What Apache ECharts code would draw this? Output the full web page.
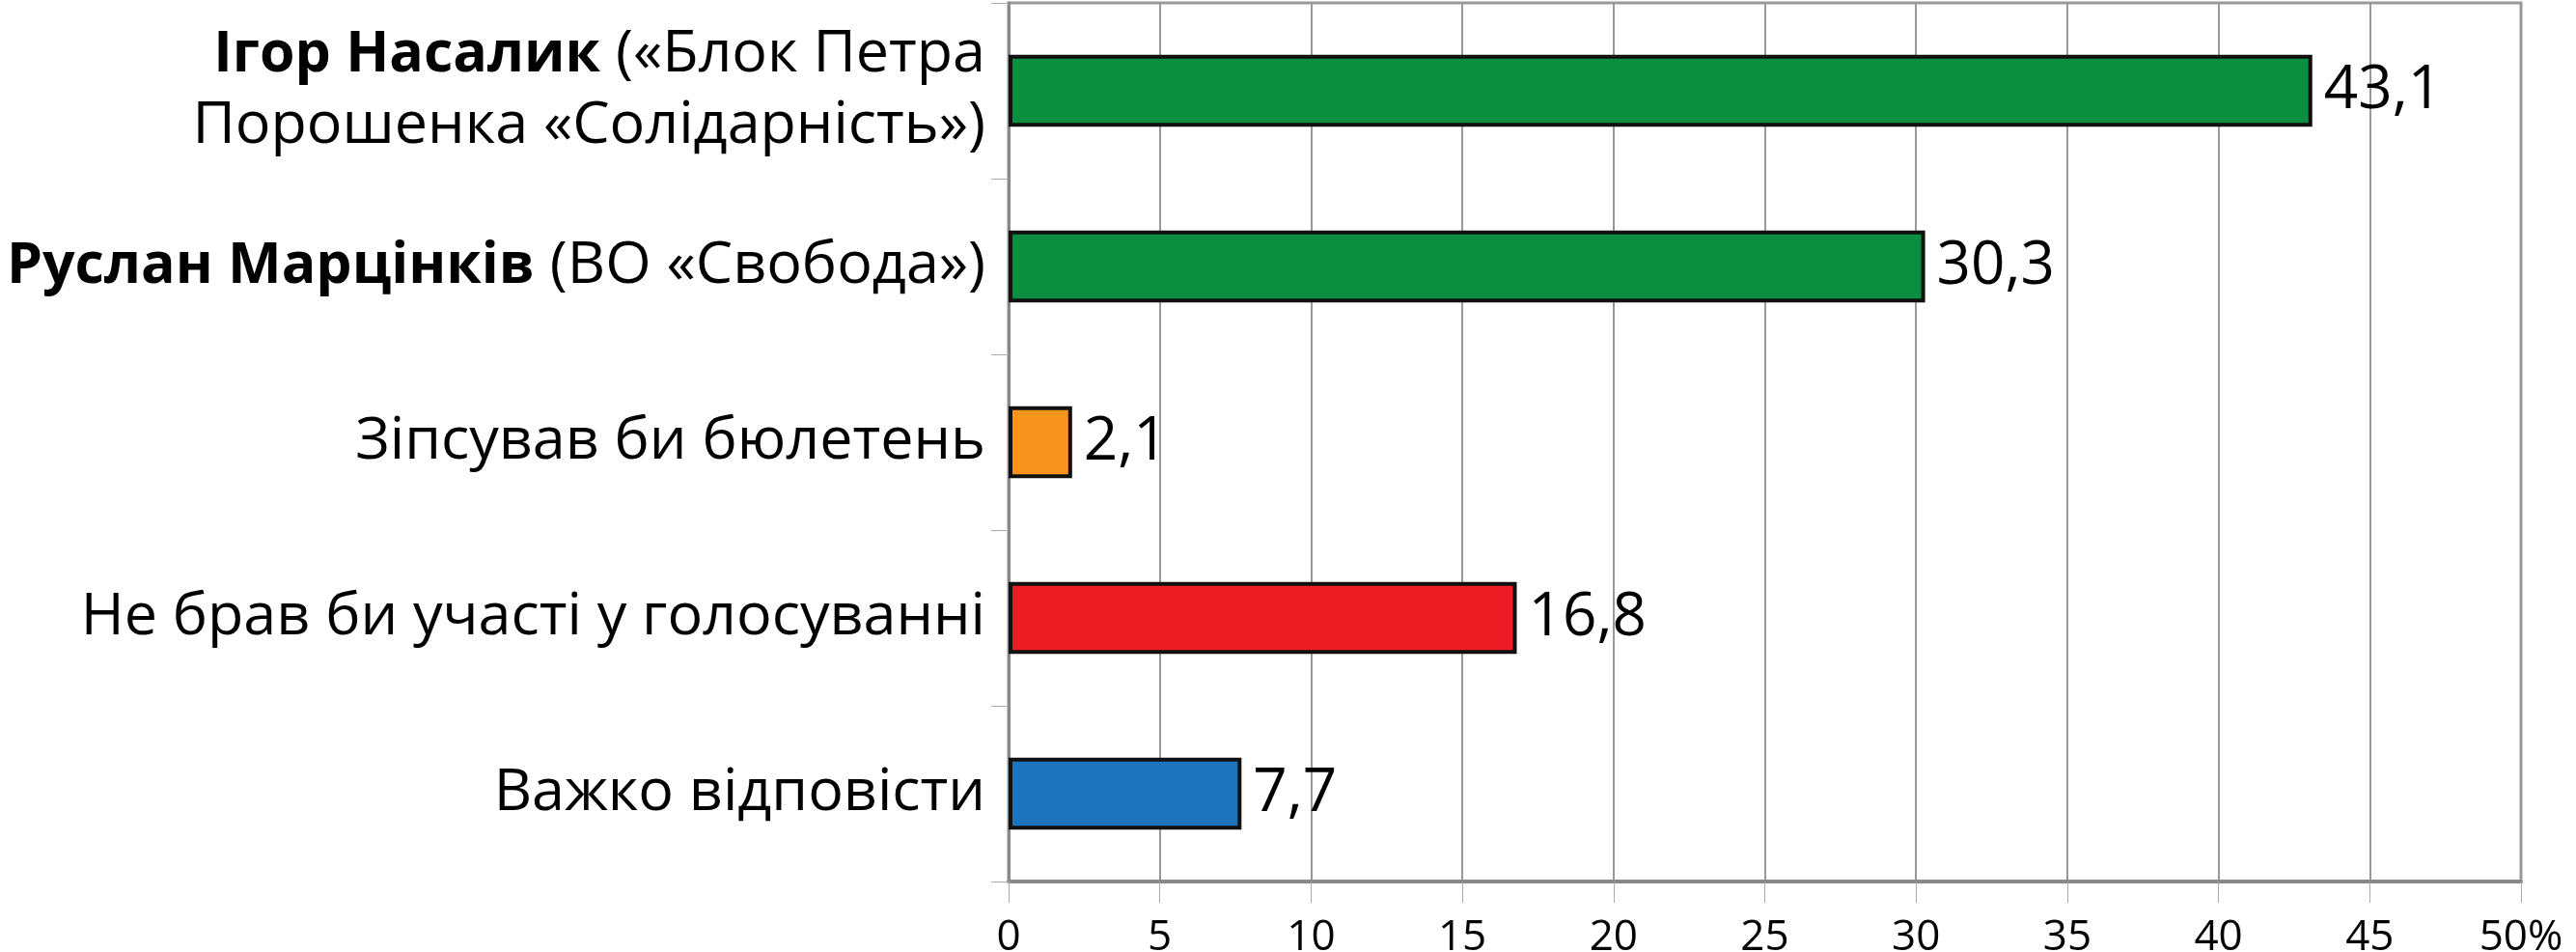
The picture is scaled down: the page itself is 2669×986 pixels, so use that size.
<!DOCTYPE html>
<html><head><meta charset="utf-8">
<script src="https://cdn.jsdelivr.net/npm/echarts@6/dist/echarts.min.js"></script>
<style>html,body{margin:0;padding:0;background:#fff}#c{width:2669px;height:986px}</style>
</head><body><div id="c"></div>
<script>
const categories = [
  'Ігор Насалик («Блок Петра\nПорошенка «Солідарність»)',
  'Руслан Марцінків (ВО «Свобода»)',
  'Зіпсував би бюлетень',
  'Не брав би участі у голосуванні',
  'Важко відповісти'
];
const boldNames = ['Ігор Насалик', 'Руслан Марцінків'];
const values = [43.1, 30.3, 2.1, 16.8, 7.7];
const barColors = ['#0a8f40', '#0a8f40', '#f7941d', '#ed1c24', '#1c75bc'];
const xTicks = [0, 5, 10, 15, 20, 25, 30, 35, 40, 45, 50];

const FONT = '"Open Sans", sans-serif';

function catFormatter(v) {
  return v.split('\n').map(line => {
    for (const b of boldNames) {
      if (line.startsWith(b)) {
        return '{b|' + b + '}{r|' + line.slice(b.length) + '}';
      }
    }
    return '{r|' + line + '}';
  }).join('\n');
}

const chart = echarts.init(document.getElementById('c'));
chart.setOption({
  animation: false,
  backgroundColor: '#fff',
  grid: { left: 1045, right: 57, top: 3, bottom: 73, show: true, borderColor: '#999', borderWidth: 3, backgroundColor: 'transparent', outerBoundsMode: 'none', containLabel: false },
  xAxis: {
    type: 'value', min: 0, max: 50, interval: 5,
    axisLine: { show: true, lineStyle: { color: '#888', width: 4 } },
    axisTick: { show: true, length: 22, lineStyle: { color: '#aaa', width: 1 } },
    splitLine: { show: true, lineStyle: { color: '#999', width: 2 } },
    axisLabel: {
      margin: 36, color: '#000', fontFamily: FONT, fontSize: 44,
      formatter: v => (v === 50 ? v + '%' : String(v))
    }
  },
  yAxis: {
    type: 'category', data: categories, inverse: true,
    axisLine: { show: true, lineStyle: { color: '#888', width: 3 } },
    axisTick: { show: true, length: 18, lineStyle: { color: '#aaa', width: 1 } },
    axisLabel: {
      margin: 24, color: '#000', formatter: catFormatter, align: 'right',
      rich: {
        b: { fontFamily: FONT, fontSize: 59, fontWeight: 'bold', color: '#000', lineHeight: 74 },
        r: { fontFamily: FONT, fontSize: 61, color: '#000', lineHeight: 74 }
      }
    }
  },
  series: [{
    type: 'bar',
    barWidth: '41%',
    data: values.map((v, i) => ({ value: v, itemStyle: { color: barColors[i] } })),
    itemStyle: { borderColor: '#111', borderWidth: 4 },
    label: {
      show: true, position: 'right', distance: 12, color: '#000',
      fontFamily: FONT, fontSize: 62,
      formatter: p => String(p.value).replace('.', ',')
    }
  }]
});
</script></body></html>
